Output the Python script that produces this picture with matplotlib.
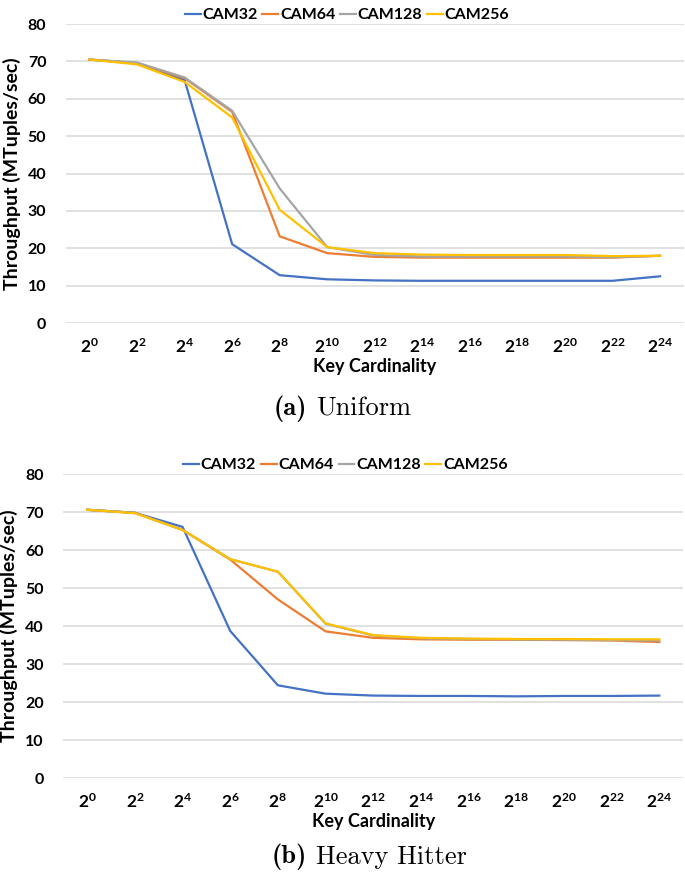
import matplotlib
matplotlib.use('Agg')
import matplotlib.pyplot as plt

CATEGORIES = [r'$\mathbf{2^{%d}}$' % p for p in range(0, 25, 2)]
SERIES = ['CAM32', 'CAM64', 'CAM128', 'CAM256']
COLORS = ['#4472C4', '#ED7D31', '#A5A5A5', '#FFC000']

UNIFORM_CAM32 = [70.5, 69.5, 65.0, 21.1, 12.8, 11.7, 11.4, 11.3, 11.3, 11.3, 11.3, 11.3, 12.5]
UNIFORM_CAM64 = [70.5, 69.5, 65.5, 56.5, 23.2, 18.7, 17.7, 17.5, 17.5, 17.5, 17.5, 17.5, 18.0]
UNIFORM_CAM128 = [70.5, 69.7, 65.7, 56.8, 36.0, 20.3, 18.2, 17.8, 17.8, 17.8, 17.8, 17.6, 18.0]
UNIFORM_CAM256 = [70.5, 69.2, 64.5, 55.0, 30.3, 20.3, 18.7, 18.3, 18.2, 18.2, 18.2, 17.9, 18.0]

HH_CAM32 = [70.6, 69.8, 66.1, 38.7, 24.4, 22.2, 21.7, 21.6, 21.6, 21.5, 21.6, 21.6, 21.7]
HH_CAM64 = [70.6, 69.8, 65.3, 57.5, 47.0, 38.6, 36.9, 36.5, 36.4, 36.4, 36.3, 36.2, 35.8]
HH_CAM128 = [70.6, 69.8, 65.3, 57.6, 54.3, 40.6, 37.5, 36.8, 36.6, 36.5, 36.4, 36.3, 36.2]
HH_CAM256 = [70.6, 69.7, 65.3, 57.6, 54.3, 40.7, 37.6, 36.9, 36.7, 36.6, 36.6, 36.5, 36.5]

FONT = ['Lato', 'DejaVu Sans']
plt.rcParams.update({
    'font.family': FONT,
    'font.weight': 'bold',
    'mathtext.fontset': 'custom',
    'mathtext.bf': 'Lato:bold',
    'mathtext.rm': 'Lato:bold',
})


def draw_panel(ax, series_values):
    x = list(range(len(CATEGORIES)))
    for name, values, color in zip(SERIES, series_values, COLORS):
        ax.plot(x, values, color=color, linewidth=1.6, label=name)
    ax.set_xlim(-0.5, len(CATEGORIES) - 0.5)
    ax.set_ylim(0, 80)
    ax.set_yticks(range(0, 81, 10))
    ax.set_xticks(x)
    ax.set_xticklabels(CATEGORIES, fontsize=12.5)
    ax.tick_params(axis='y', labelsize=11.5, length=0, pad=14)
    ax.tick_params(axis='x', length=0, pad=10)
    for s in ax.spines.values():
        s.set_visible(False)
    ax.grid(True, axis='y', color='#D9D9D9', linewidth=1.1)
    ax.set_axisbelow(True)
    ax.set_ylabel('Throughput (MTuples/sec)', fontsize=14, fontweight='bold', labelpad=5)
    ax.set_xlabel('Key Cardinality', fontsize=13, fontweight='bold', labelpad=2)
    ax.legend(loc='lower center', bbox_to_anchor=(0.455, 0.985), ncol=4, frameon=False,
              handlelength=1.0, handletextpad=0.1, columnspacing=0.3,
              borderaxespad=0, prop={'family': FONT, 'weight': 'bold', 'size': 11.5})


fig = plt.figure(figsize=(6.85, 8.74), dpi=100)
ax1 = fig.add_axes([0.096, 0.6304, 0.9023, 0.3421])
ax2 = fig.add_axes([0.0925, 0.1098, 0.9048, 0.3478])
draw_panel(ax1, [UNIFORM_CAM32, UNIFORM_CAM64, UNIFORM_CAM128, UNIFORM_CAM256])
draw_panel(ax2, [HH_CAM32, HH_CAM64, HH_CAM128, HH_CAM256])

fig.text(0.448, 1 - 409 / 874, '(a)', fontsize=19, family='cmb10', ha='right', va='center')
fig.text(0.462, 1 - 409 / 874, 'Uniform', fontsize=19, family='cmr10', fontweight='normal',
         ha='left', va='center')
fig.text(0.448, 1 - 857 / 874, '(b)', fontsize=19, family='cmb10', ha='right', va='center')
fig.text(0.462, 1 - 857 / 874, 'Heavy Hitter', fontsize=19, family='cmr10', fontweight='normal',
         ha='left', va='center')

fig.savefig('out.png', dpi=100)
